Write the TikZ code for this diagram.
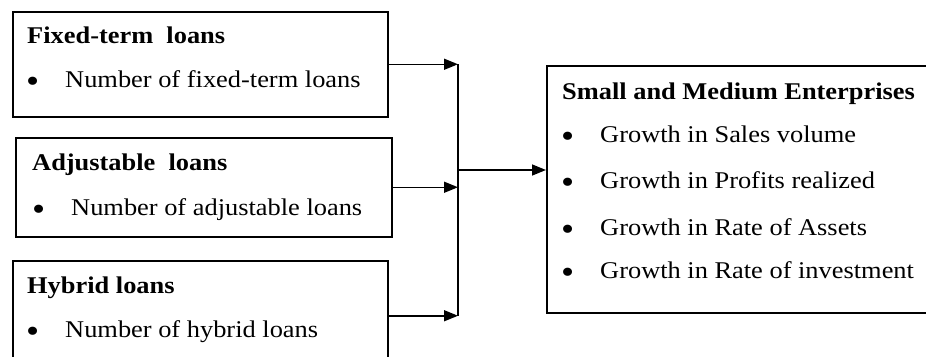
\documentclass[tikz,border=0pt]{standalone}
\usepackage{fontspec}
\setmainfont{Liberation Serif}[FakeStretch=1.1]
\usetikzlibrary{arrows.meta}
\usetikzlibrary{positioning}

\newcommand{\itm}[1]{\makebox[38pt][l]{\hspace*{-1pt}\raisebox{-5pt}{\fontsize{34}{34}\selectfont\textbullet}}#1}

\tikzset{
  box/.style={draw, line width=1.5pt, rectangle, anchor=north west, inner sep=0pt},
  head/.style={anchor=base west, inner sep=0pt, font=\fontsize{24}{28}\selectfont\bfseries},
  item/.style={anchor=base west, inner sep=0pt, font=\fontsize{24}{28}\selectfont},
  wire/.style={line width=1.5pt},
  link/.style={line width=1.5pt, -{Triangle[length=14pt,width=11pt]}},
}

\begin{document}
\begin{tikzpicture}[x=1pt, y=-1pt]
\useasboundingbox (0,0) rectangle (926,356);
%\draw [red] (0,0) rectangle (926,356);
\node [box, minimum width=375pt, minimum height=105pt] (fixed) at (12,11) {};
\node [box, minimum width=376pt, minimum height=99pt] (adjust) at (15,137) {};
\node [box, minimum width=375pt, minimum height=110pt] (hybrid) at (12,260) {};
\node [box, minimum width=380pt, minimum height=247pt] (sme) at (546,65) {};

\node [head] (fixedT) at (27,43) {Fixed-term~ loans};
\node [item] (fixedA) at (27,87) {\itm{Number of fixed-term loans}};
\node [head] (adjustT) at (32,170) {Adjustable~ loans};
\node [item] (adjustA) at (33,215) {\itm{Number of adjustable loans}};
\node [head] (hybridT) at (27,293) {Hybrid loans};
\node [item] (hybridA) at (27,337) {\itm{Number of hybrid loans}};

\node [head] (smeT) at (562,99) {Small and Medium Enterprises};
\node [item] (smeA) at (562,142) {\itm{Growth in Sales volume}};
\node [item] (smeB) at (562,188) {\itm{Growth in Profits realized}};
\node [item] (smeC) at (562,235) {\itm{Growth in Rate of Assets}};
\node [item] (smeD) at (562,278) {\itm{Growth in Rate of investment}};

\coordinate (bus) at (458,170);
\draw [link] (fixed.east) -- (fixed.east -| bus);
\draw [link] (adjust.east) -- (adjust.east -| bus);
\draw [link] (hybrid.east) -- (hybrid.east -| bus);
\draw [wire] (fixed.east -| bus) -- (hybrid.east -| bus);
\draw [link] (bus) -- (sme.west |- bus);
\end{tikzpicture}
\end{document}
